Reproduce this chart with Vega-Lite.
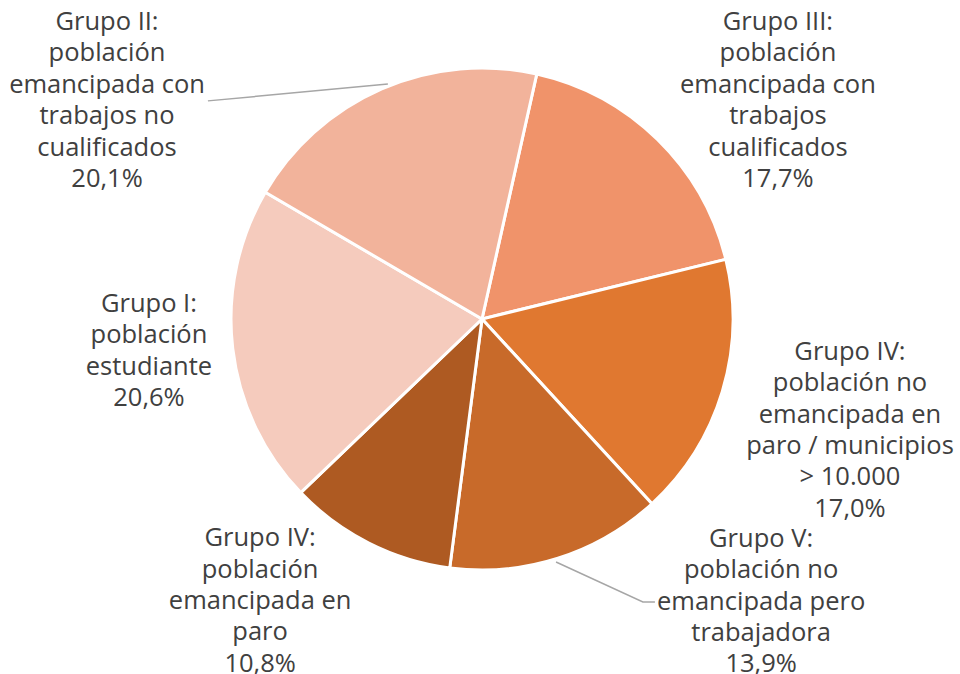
{
  "$schema": "https://vega.github.io/schema/vega-lite/v6.json",
  "width": 956,
  "height": 638,
  "autosize": "none",
  "padding": {"left": 4, "top": 0, "right": 0, "bottom": 36},
  "background": "white",
  "config": {"view": {"stroke": null}},
  "datasets": {
    "grupos": [
      {"grupo": "Grupo III:\npoblación\nemancipada con\ntrabajos\ncualificados", "valor": 17.7, "orden": 1},
      {"grupo": "Grupo IV:\npoblación no\nemancipada en\nparo / municipios\n> 10.000", "valor": 17.0, "orden": 2},
      {"grupo": "Grupo V:\npoblación no\nemancipada pero\ntrabajadora", "valor": 13.9, "orden": 3},
      {"grupo": "Grupo IV:\npoblación\nemancipada en\nparo", "valor": 10.8, "orden": 4},
      {"grupo": "Grupo I:\npoblación\nestudiante", "valor": 20.6, "orden": 5},
      {"grupo": "Grupo II:\npoblación\nemancipada con\ntrabajos no\ncualificados", "valor": 20.1, "orden": 6}
    ],
    "etiquetas": [
      {"grupo": "Grupo III:\npoblación\nemancipada con\ntrabajos\ncualificados", "ex": 117.9, "ey": 118.3},
      {"grupo": "Grupo IV:\npoblación no\nemancipada en\nparo / municipios\n> 10.000", "ex": 146.6, "ey": -13.1},
      {"grupo": "Grupo V:\npoblación no\nemancipada pero\ntrabajadora", "ex": 111.2, "ey": -87.6},
      {"grupo": "Grupo IV:\npoblación\nemancipada en\nparo", "ex": -88.4, "ey": -87.3},
      {"grupo": "Grupo I:\npoblación\nestudiante", "ex": -132.7, "ey": 6.0},
      {"grupo": "Grupo II:\npoblación\nemancipada con\ntrabajos no\ncualificados", "ex": -149.4, "ey": 118.3}
    ],
    "guias": [
      {"guia": "II", "paso": 1, "gx": -109.2, "gy": 86.9},
      {"guia": "II", "paso": 2, "gx": -37.5, "gy": 93.6},
      {"guia": "V", "paso": 1, "gx": 29.5, "gy": -96.8},
      {"guia": "V", "paso": 2, "gx": 64.1, "gy": -112.7},
      {"guia": "V", "paso": 3, "gx": 68.9, "gy": -112.7}
    ]
  },
  "layer": [
    {
      "data": {"name": "grupos"},
      "mark": {"type": "arc", "outerRadius": 251, "stroke": "white", "strokeWidth": 3},
      "encoding": {
        "x": {"datum": 0, "type": "quantitative", "scale": {"domain": [-190.44, 190.44], "nice": false, "zero": false}, "axis": null},
        "y": {"datum": 0, "type": "quantitative", "scale": {"domain": [-127.09, 127.09], "nice": false, "zero": false}, "axis": null},
        "theta": {"field": "valor", "type": "quantitative", "stack": true, "scale": {"range": [0.2199, 6.5031]}},
        "order": {"field": "orden", "type": "quantitative"},
        "color": {
          "field": "grupo",
          "type": "nominal",
          "legend": null,
          "scale": {
            "domain": [
              "Grupo III:\npoblación\nemancipada con\ntrabajos\ncualificados",
              "Grupo IV:\npoblación no\nemancipada en\nparo / municipios\n> 10.000",
              "Grupo V:\npoblación no\nemancipada pero\ntrabajadora",
              "Grupo IV:\npoblación\nemancipada en\nparo",
              "Grupo I:\npoblación\nestudiante",
              "Grupo II:\npoblación\nemancipada con\ntrabajos no\ncualificados"
            ],
            "range": ["#F0936A", "#E07830", "#C86A2A", "#AE5A22", "#F5CBBD", "#F2B39B"]
          }
        }
      }
    },
    {
      "data": {"name": "guias"},
      "mark": {"type": "line", "color": "#A6A6A6", "strokeWidth": 1.5},
      "encoding": {
        "x": {"field": "gx", "type": "quantitative", "scale": {"domain": [-190.44, 190.44], "nice": false, "zero": false}, "axis": null},
        "y": {"field": "gy", "type": "quantitative", "scale": {"domain": [-127.09, 127.09], "nice": false, "zero": false}, "axis": null},
        "detail": {"field": "guia"},
        "order": {"field": "paso", "type": "quantitative"}
      }
    },
    {
      "data": {"name": "etiquetas"},
      "transform": [
        {"lookup": "grupo", "from": {"data": {"name": "grupos"}, "key": "grupo", "fields": ["valor"]}},
        {"calculate": "datum.grupo + '\\n' + replace(format(datum.valor, '.1f'), '.', ',') + '%'", "as": "rotulo"}
      ],
      "mark": {
        "type": "text",
        "font": "Open Sans",
        "fontSize": 25.5,
        "lineHeight": 31.4,
        "color": "#404040",
        "align": "center",
        "baseline": "middle",
        "lineBreak": "\n"
      },
      "encoding": {
        "x": {"field": "ex", "type": "quantitative", "scale": {"domain": [-190.44, 190.44], "nice": false, "zero": false}, "axis": null},
        "y": {"field": "ey", "type": "quantitative", "scale": {"domain": [-127.09, 127.09], "nice": false, "zero": false}, "axis": null},
        "text": {"field": "rotulo"}
      }
    }
  ]
}
